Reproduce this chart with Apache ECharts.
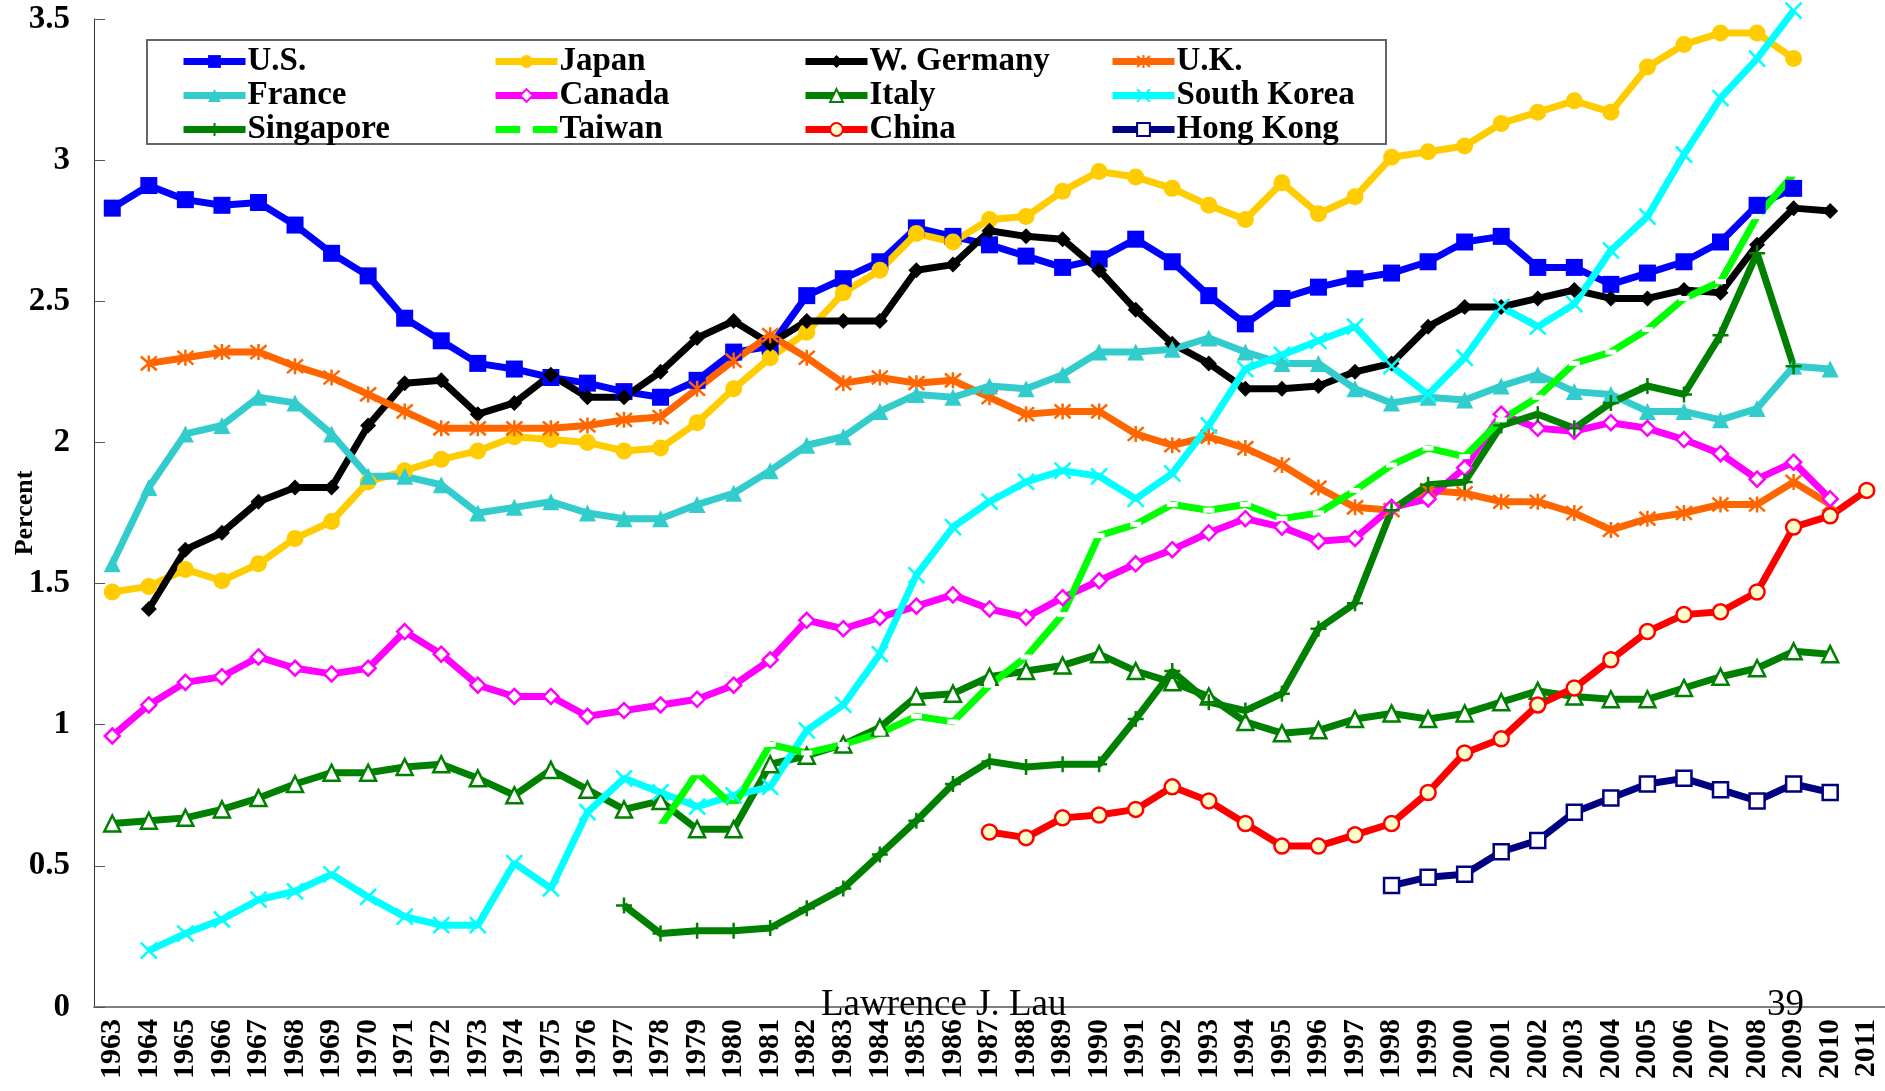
<!DOCTYPE html>
<html>
<head>
<meta charset="utf-8">
<title>R&amp;D as a percent of GDP</title>
<script src="https://cdn.jsdelivr.net/npm/echarts@6/dist/echarts.min.js"></script>
<style>
  html, body { margin: 0; padding: 0; background: #fff; }
  #chart { width: 1885px; height: 1091px; }
</style>
</head>
<body>
<div id="chart"></div>
<script>
// years on the x axis
var years = [];
for (var y = 1963; y <= 2011; y++) years.push(String(y));

var yTicks = [0, 0.5, 1, 1.5, 2, 2.5, 3, 3.5];

// values, 1963..2011 (null = no data)
var usData = [2.83, 2.91, 2.86, 2.84, 2.85, 2.77, 2.67, 2.59, 2.44, 2.36, 2.28, 2.26, 2.23, 2.21, 2.18, 2.16, 2.22,
  2.32, 2.34, 2.52, 2.58, 2.64, 2.76, 2.73, 2.70, 2.66, 2.62, 2.65, 2.72, 2.64, 2.52, 2.42, 2.51,
  2.55, 2.58, 2.60, 2.64, 2.71, 2.73, 2.62, 2.62, 2.56, 2.60, 2.64, 2.71, 2.84, 2.90, null, null];
var japanData = [1.47, 1.49, 1.55, 1.51, 1.57, 1.66, 1.72, 1.86, 1.90, 1.94, 1.97, 2.02, 2.01, 2.00, 1.97, 1.98, 2.07,
  2.19, 2.30, 2.39, 2.53, 2.61, 2.74, 2.71, 2.79, 2.80, 2.89, 2.96, 2.94, 2.90, 2.84, 2.79, 2.92,
  2.81, 2.87, 3.01, 3.03, 3.05, 3.13, 3.17, 3.21, 3.17, 3.33, 3.41, 3.45, 3.45, 3.36, null, null];
var germanyData = [null, 1.41, 1.62, 1.68, 1.79, 1.84, 1.84, 2.06, 2.21, 2.22, 2.10, 2.14, 2.24, 2.16, 2.16, 2.25, 2.37,
  2.43, 2.35, 2.43, 2.43, 2.43, 2.61, 2.63, 2.75, 2.73, 2.72, 2.61, 2.47, 2.35, 2.28, 2.19, 2.19,
  2.20, 2.25, 2.28, 2.41, 2.48, 2.48, 2.51, 2.54, 2.51, 2.51, 2.54, 2.53, 2.70, 2.83, 2.82, null];
var ukData = [null, 2.28, 2.30, 2.32, 2.32, 2.27, 2.23, 2.17, 2.11, 2.05, 2.05, 2.05, 2.05, 2.06, 2.08, 2.09, 2.19,
  2.29, 2.38, 2.30, 2.21, 2.23, 2.21, 2.22, 2.16, 2.10, 2.11, 2.11, 2.03, 1.99, 2.02, 1.98, 1.92,
  1.84, 1.77, 1.76, 1.83, 1.82, 1.79, 1.79, 1.75, 1.69, 1.73, 1.75, 1.78, 1.78, 1.86, 1.78, null];
var franceData = [1.57, 1.84, 2.03, 2.06, 2.16, 2.14, 2.03, 1.88, 1.88, 1.85, 1.75, 1.77, 1.79, 1.75, 1.73, 1.73, 1.78,
  1.82, 1.90, 1.99, 2.02, 2.11, 2.17, 2.16, 2.20, 2.19, 2.24, 2.32, 2.32, 2.33, 2.37, 2.32, 2.28,
  2.28, 2.19, 2.14, 2.16, 2.15, 2.20, 2.24, 2.18, 2.17, 2.11, 2.11, 2.08, 2.12, 2.27, 2.26, null];
var canadaData = [0.96, 1.07, 1.15, 1.17, 1.24, 1.20, 1.18, 1.20, 1.33, 1.25, 1.14, 1.10, 1.10, 1.03, 1.05, 1.07, 1.09,
  1.14, 1.23, 1.37, 1.34, 1.38, 1.42, 1.46, 1.41, 1.38, 1.45, 1.51, 1.57, 1.62, 1.68, 1.73, 1.70,
  1.65, 1.66, 1.77, 1.80, 1.91, 2.10, 2.05, 2.04, 2.07, 2.05, 2.01, 1.96, 1.87, 1.93, 1.80, null];
var italyData = [0.65, 0.66, 0.67, 0.70, 0.74, 0.79, 0.83, 0.83, 0.85, 0.86, 0.81, 0.75, 0.84, 0.77, 0.70, 0.73, 0.63,
  0.63, 0.86, 0.89, 0.93, 0.99, 1.10, 1.11, 1.17, 1.19, 1.21, 1.25, 1.19, 1.15, 1.10, 1.01, 0.97,
  0.98, 1.02, 1.04, 1.02, 1.04, 1.08, 1.12, 1.10, 1.09, 1.09, 1.13, 1.17, 1.20, 1.26, 1.25, null];
var koreaData = [null, 0.20, 0.26, 0.31, 0.38, 0.41, 0.47, 0.39, 0.32, 0.29, 0.29, 0.51, 0.42, 0.69, 0.81, 0.76, 0.71,
  0.75, 0.78, 0.98, 1.07, 1.25, 1.53, 1.70, 1.79, 1.86, 1.90, 1.88, 1.80, 1.89, 2.06, 2.26, 2.31,
  2.36, 2.41, 2.27, 2.17, 2.30, 2.48, 2.41, 2.49, 2.68, 2.80, 3.02, 3.22, 3.36, 3.53, null, null];
var singaporeData = [null, null, null, null, null, null, null, null, null, null, null, null, null, null, 0.36, 0.26, 0.27,
  0.27, 0.28, 0.35, 0.42, 0.54, 0.66, 0.79, 0.87, 0.85, 0.86, 0.86, 1.02, 1.19, 1.08, 1.05, 1.11,
  1.34, 1.43, 1.76, 1.85, 1.86, 2.06, 2.10, 2.05, 2.14, 2.20, 2.17, 2.38, 2.67, 2.27, null, null];
var taiwanData = [null, null, null, null, null, null, null, null, null, null, null, null, null, null, null, 0.64, 0.83,
  0.71, 0.93, 0.90, 0.93, 0.97, 1.03, 1.01, 1.14, 1.24, 1.39, 1.67, 1.71, 1.78, 1.76, 1.78, 1.73,
  1.75, 1.83, 1.92, 1.98, 1.95, 2.08, 2.16, 2.28, 2.32, 2.40, 2.51, 2.57, 2.80, 2.95, null, null];
var chinaData = [null, null, null, null, null, null, null, null, null, null, null, null, null, null, null, null, null,
  null, null, null, null, null, null, null, 0.62, 0.60, 0.67, 0.68, 0.70, 0.78, 0.73, 0.65, 0.57,
  0.57, 0.61, 0.65, 0.76, 0.90, 0.95, 1.07, 1.13, 1.23, 1.33, 1.39, 1.40, 1.47, 1.70, 1.74, 1.83];
var hongKongData = [null, null, null, null, null, null, null, null, null, null, null, null, null, null, null, null, null,
  null, null, null, null, null, null, null, null, null, null, null, null, null, null, null, null,
  null, null, 0.43, 0.46, 0.47, 0.55, 0.59, 0.69, 0.74, 0.79, 0.81, 0.77, 0.73, 0.79, 0.76, null];

var serif = '"Liberation Serif", "Times New Roman", serif';

var asterisk = 'path://M5,0 L5,10 M0.7,0.7 L9.3,9.3 M9.3,0.7 L0.7,9.3';
var cross = 'path://M0,0 L10,10 M10,0 L0,10';
var plus = 'path://M5,0 L5,10 M0,5 L10,5';

function makeSeries(name, data, color, symbol, size, fill, border) {
  return {
    name: name,
    type: 'line',
    data: data,
    symbol: symbol,
    symbolSize: size,
    showAllSymbol: true,
    connectNulls: false,
    lineStyle: { color: color, width: 7 },
    itemStyle: {
      color: fill || color,
      borderColor: color,
      borderWidth: border || 0
    },
    emphasis: { disabled: true }
  };
}

var series = [
  makeSeries('U.S.', usData, '#0000ff', 'rect', 17),
  makeSeries('Japan', japanData, '#ffcc00', 'circle', 17),
  makeSeries('W. Germany', germanyData, '#000000', 'diamond', 16),
  makeSeries('U.K.', ukData, '#ff6600', asterisk, 16, '#ff6600', 2.5),
  makeSeries('France', franceData, '#33cccc', 'triangle', 17),
  makeSeries('Canada', canadaData, '#ff00ff', 'diamond', 15, '#ffffff', 2.5),
  makeSeries('Italy', italyData, '#008000', 'triangle', 16, '#ffffff', 2.5),
  makeSeries('South Korea', koreaData, '#00ffff', cross, 16, '#00ffff', 2.5),
  makeSeries('Singapore', singaporeData, '#008000', plus, 16, '#008000', 2.5),
  makeSeries('Taiwan', taiwanData, '#00ff00', 'rect', [11, 5], '#ffffff'),
  makeSeries('China', chinaData, '#ff0000', 'circle', 15, '#ffffcc', 2.5),
  makeSeries('Hong Kong', hongKongData, '#000080', 'rect', 15, '#ffffff', 2.5)
];
series[7].clip = false;

var legendColumns = [
  ['U.S.', 'France', 'Singapore'],
  ['Japan', 'Canada', 'Taiwan'],
  ['W. Germany', 'Italy', 'China'],
  ['U.K.', 'South Korea', 'Hong Kong']
];
var legendLeft = [175, 487, 797, 1104];
var legends = legendColumns.map(function (names, i) {
  return {
    data: names,
    orient: 'vertical',
    left: legendLeft[i],
    top: 40,
    itemWidth: 62,
    itemHeight: 16,
    itemGap: 1,
    selectedMode: false,
    lineStyle: { width: 7 },
    textStyle: { fontFamily: serif, fontWeight: 'bold', fontSize: 33, lineHeight: 30, color: '#000', padding: [0, 0, 0, -3] }
  };
});

var myChart = echarts.init(document.getElementById('chart'));
var option = {
  animation: false,
  backgroundColor: '#fff',
  legend: legends,
  grid: { left: 94, right: 0, top: 19, bottom: 84, containLabel: false, outerBoundsMode: 'none' },
  xAxis: {
    type: 'category',
    data: years,
    boundaryGap: true,
    axisLine: { lineStyle: { color: '#808080', width: 2 } },
    axisTick: { inside: true, length: 9, interval: 0, lineStyle: { color: '#333', width: 1 } },
    axisLabel: {
      interval: 0,
      rotate: 90,
      margin: 12,
      fontFamily: serif,
      fontWeight: 'bold',
      fontSize: 30,
      color: '#000'
    }
  },
  yAxis: {
    type: 'value',
    min: 0,
    max: 3.5,
    interval: 0.5,
    name: 'Percent',
    nameLocation: 'middle',
    nameRotate: 90,
    nameGap: 56,
    nameMoveOverlap: false,
    nameTextStyle: { fontFamily: serif, fontWeight: 'bold', fontSize: 26, color: '#000' },
    axisLine: { show: true, lineStyle: { color: '#333', width: 1 } },
    axisTick: { show: true, inside: true, length: 11, lineStyle: { color: '#555' } },
    splitLine: { show: false },
    axisLabel: {
      margin: 24,
      fontFamily: serif,
      fontWeight: 'bold',
      fontSize: 33,
      color: '#000',
      formatter: function (v) { return yTicks.indexOf(v) >= 0 ? String(v) : ''; }
    }
  },
  graphic: [
    {
      type: 'rect',
      shape: { x: 147, y: 40, width: 1239, height: 104 },
      style: { fill: 'none', stroke: '#666', lineWidth: 2 },
      z: 0
    },
    {
      type: 'text',
      left: 821,
      top: 987,
      style: { text: 'Lawrence J. Lau', fontFamily: serif, fontSize: 37, fill: '#000' },
      z: 10
    },
    {
      type: 'text',
      left: 1767,
      top: 987,
      style: { text: '39', fontFamily: serif, fontSize: 37, fill: '#000' },
      z: 10
    }
  ],
  series: series
};
myChart.setOption(option);
</script>
</body>
</html>
